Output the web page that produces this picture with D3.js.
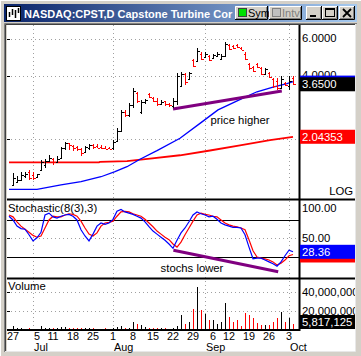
<!DOCTYPE html>
<html><head><meta charset="utf-8">
<script src="https://cdn.jsdelivr.net/npm/d3@7"></script>
<style>
body{margin:0;background:#d4d0c8;overflow:hidden}
svg{display:block;font-family:"Liberation Sans",Arial,sans-serif}
</style></head>
<body><svg id="c" width="361" height="356"></svg>
<script>
// ---------- DATA ----------
const titleText = "NASDAQ:CPST,D Capstone Turbine Cor";
const dayLabels = ["27","5","11","18","25","1","8","15","22","29","6","12","19","26","3"];
const dayIdx    = [0,6,10,15,20,25,30,35,40,45,50,54,59,64,69];
const monthLabels = ["Jul","Aug","Sep","Oct"];
const monthIdx    = [5,25,48,69];

const opens  = [1.20,1.24,1.27,1.32,1.38,1.34,1.31,1.42,1.50,1.57,1.60,1.55,1.62,1.80,1.90,1.85,1.82,1.78,1.72,1.80,1.86,1.84,1.83,1.81,1.81,1.80,1.95,2.18,2.70,2.60,2.90,3.30,2.70,3.00,3.28,3.15,3.05,2.95,3.02,2.95,2.88,3.05,3.60,4.10,3.85,4.75,4.70,5.10,4.95,5.00,4.90,5.00,4.85,5.00,5.65,5.60,5.65,5.45,5.10,4.55,4.40,4.55,4.35,4.10,4.15,3.85,3.80,3.50,3.70,3.60,3.90];
const highs  = [1.37,1.33,1.38,1.38,1.42,1.38,1.36,1.58,1.60,1.67,1.62,1.65,1.83,1.93,1.91,1.87,1.85,1.81,1.85,1.89,1.89,1.88,1.86,1.84,1.83,1.97,2.24,2.75,2.75,2.96,3.49,3.35,3.07,3.10,3.32,3.16,3.12,3.07,3.05,2.98,3.12,4.13,4.20,4.15,4.20,4.80,5.45,5.20,5.20,5.05,5.10,5.20,5.10,5.80,5.70,5.63,5.70,5.50,5.20,4.60,4.45,4.60,4.42,4.38,4.20,3.91,3.91,4.00,3.75,4.00,4.00];
const lows   = [1.18,1.22,1.25,1.30,1.27,1.27,1.31,1.42,1.45,1.55,1.50,1.53,1.61,1.77,1.77,1.75,1.74,1.66,1.70,1.77,1.79,1.80,1.79,1.78,1.78,1.77,1.93,2.16,2.55,2.55,2.82,2.97,2.64,2.95,3.14,3.00,2.87,2.90,2.88,2.85,2.80,2.90,3.55,3.62,3.83,4.40,4.65,4.77,4.95,4.70,4.90,4.95,4.80,4.95,5.33,5.40,5.45,5.33,4.77,4.27,4.20,4.35,4.05,4.05,3.90,3.52,3.43,3.47,3.58,3.43,3.62];
const closes = [1.30,1.27,1.34,1.36,1.30,1.29,1.35,1.55,1.57,1.62,1.55,1.60,1.80,1.90,1.87,1.80,1.78,1.70,1.83,1.86,1.82,1.81,1.80,1.79,1.79,1.93,2.18,2.70,2.60,2.90,3.40,3.05,3.00,3.08,3.18,3.02,2.95,3.00,2.93,2.90,3.05,4.00,4.10,3.75,4.15,4.45,5.30,4.85,5.10,4.75,5.05,5.10,5.00,5.70,5.40,5.45,5.50,5.35,4.85,4.35,4.25,4.40,4.10,4.30,3.95,3.60,3.50,3.85,3.62,3.80,3.65];
const volumes = [4.2,1.4,1.4,0.8,1.4,0.6,0.6,3.2,1.4,1.4,1.4,1.4,2.5,2.5,1.2,1.2,1.2,1.2,1.2,1.2,1.2,0.8,0.6,1.2,0.6,1.4,2.5,4.2,1.8,1.8,8.4,5.6,4.6,2.5,2.0,2.0,1.8,1.4,1.4,1.0,1.4,3.5,15.4,5.6,8.0,22,44.5,21,15.8,10.5,10.5,5.6,7.7,27.7,13,8.4,9.5,4.2,17.2,15,11.6,6.7,4.6,4.6,4.6,8.4,12,18.2,7.7,12,5.817125];

// stochastic, first value is index -1
const stochK = [86,80,70,66,65,56,46,51,60,88,91,85,83,86,88,89,86,80,64,54,46,57,70,75,73,75,81,94,97,93,91,89,86,83,77,69,62,57,52,47,41,34,47,59,67,77,88,93,90,88,85,86,81,75,72,70,68,68,67,56,36,17,18,18,15,12,9,5,12,22,31,28.36];
const stochD = [88,85,77,70,65,60,55,52,54,67,80,86,85,85,88,90,89,86,78,67,57,54,59,70,75,76,78,86,93,94,93,90,88,86,81,75,69,62,57,52,48,41,36,44,56,67,78,88,91,89,88,86,85,80,75,72,70,69,67,64,48,30,20,18,17,15,12,7,10,15,22,24];

const maBlueIdx = [-1,6,12,17,22,25.5,28.5,31.75,36,41.75,46.75,51.25,57.5,61,65,68.5,70];
const maBlueVal = [1.144,1.144,1.20,1.245,1.314,1.389,1.468,1.594,1.753,2.01,2.37,2.75,3.13,3.36,3.54,3.68,3.76];
const maRedIdx = [-1,21.5,21.75,28.5,34.25,41.75,49.25,56.75,64.25,70];
const maRedVal = [1.54,1.54,1.55,1.562,1.607,1.666,1.756,1.86,1.97,2.04353];

const trendPriceIdx = [40,67.2], trendPriceVal = [2.78,3.39];
const trendStochIdx = [40.1,66.3], trendStochVal = [31,-4];

const priceGrid = [2,4,6];
const priceTicks = [4,6], priceTickLabels = ["4.0000","6.0000"];
const stochTicks = [50,100], stochTickLabels = ["50.00","100.00"];
const volTicks = [20e6,40e6], volTickLabels = ["20,000,000","40,000,000"];
const lastPrice = 3.65, lastPriceLabel = "3.6500";
const lastMaBlue = 3.76;
const lastMaRed = 2.04353, lastMaRedLabel = "2.04353";
const lastK = 28.36, lastKLabel = "28.36", lastD = 24;
const lastVol = 5817125, lastVolLabel = "5,817,125";

// ---------- LAYOUT ----------
const L = 7, R = 300, AX = 355;
const P = {top:25, bot:199}, S = {top:199, bot:278}, V = {top:278, bot:330};
const X  = d3.scaleLinear().domain([0,70]).range([13,293]);
const yP = d3.scaleLog().domain([1,6]).range([201.46,39.3]);
const yS = d3.scaleLinear().domain([0,100]).range([269.3,207.6]);
const yV = d3.scaleLinear().domain([0,40e6]).range([329.5,291.5]);
const FS = 11.3;

const svg = d3.select("#c");
const defs = svg.append("defs");
const grad = defs.append("linearGradient").attr("id","tg");
grad.append("stop").attr("offset","0").attr("stop-color","#0a246a");
grad.append("stop").attr("offset","1").attr("stop-color","#a6caf0");
defs.append("clipPath").attr("id","clipTitle").append("rect").attr("x",4).attr("y",4).attr("width",230).attr("height",18);
defs.append("clipPath").attr("id","clipP").append("rect").attr("x",L).attr("y",P.top).attr("width",R-L).attr("height",P.bot-P.top);
defs.append("clipPath").attr("id","clipS").append("rect").attr("x",L).attr("y",S.top).attr("width",R-L).attr("height",S.bot-S.top);
defs.append("clipPath").attr("id","clipV").append("rect").attr("x",L).attr("y",V.top).attr("width",R-L).attr("height",V.bot-V.top);
defs.append("clipPath").attr("id","clipAx").append("rect").attr("x",R).attr("y",P.top).attr("width",AX-R).attr("height",V.bot-P.top);

// window background
svg.append("rect").attr("width",361).attr("height",356).attr("fill","#d4d0c8");
svg.append("line").attr("x1",0).attr("y1",0.5).attr("x2",361).attr("y2",0.5).attr("stroke","#ffffff");
svg.append("line").attr("x1",0.5).attr("y1",0).attr("x2",0.5).attr("y2",356).attr("stroke","#ffffff");

// title bar
svg.append("rect").attr("x",4).attr("y",4).attr("width",353).attr("height",18).attr("fill","url(#tg)");
const ic = svg.append("g");
ic.append("rect").attr("x",6.5).attr("y",6.5).attr("width",14).attr("height",14).attr("fill","#fff").attr("stroke","#000");
[[9,12,17],[12,9,15],[15,10,18],[18,8,13]].forEach(d=>{
  ic.append("line").attr("x1",d[0]+0.5).attr("x2",d[0]+0.5).attr("y1",d[1]).attr("y2",d[2]).attr("stroke","#000").attr("stroke-width",1.5);
});
svg.append("text").attr("clip-path","url(#clipTitle)").attr("x",24).attr("y",17.5)
  .attr("fill","#fff").attr("font-weight","bold").attr("font-size",11).text(titleText);

function button(x,y,w,h){
  const g = svg.append("g");
  g.append("rect").attr("x",x).attr("y",y).attr("width",w).attr("height",h).attr("fill","#d4d0c8");
  g.append("path").attr("d",`M${x+0.5},${y+h}V${y+0.5}H${x+w}`).attr("stroke","#fff").attr("fill","none");
  g.append("path").attr("d",`M${x},${y+h-0.5}H${x+w-0.5}V${y}`).attr("stroke","#000").attr("fill","none");
  g.append("path").attr("d",`M${x+1},${y+h-1.5}H${x+w-1.5}V${y+1}`).attr("stroke","#808080").attr("fill","none");
  return g;
}
const bs = button(235,6,33,14);
bs.append("rect").attr("x",238.5).attr("y",8.5).attr("width",8).attr("height",8).attr("fill","#00e000").attr("stroke","#404040");
bs.append("text").attr("x",248).attr("y",17).attr("font-size",11).attr("fill","#000").text("Sym");
const bi = button(269,6,33,14);
bi.append("rect").attr("x",272.5).attr("y",8.5).attr("width",8).attr("height",8).attr("fill","#c0c0c0").attr("stroke","#808080");
bi.append("text").attr("x",282).attr("y",17).attr("font-size",11).attr("fill","#808080").text("Intv");
const bmin = button(306,6,16,14);
bmin.append("rect").attr("x",310).attr("y",15).attr("width",6).attr("height",2).attr("fill","#000");
const bmax = button(322,6,16,14);
bmax.append("rect").attr("x",325.5).attr("y",8.5).attr("width",9).attr("height",8).attr("fill","none").attr("stroke","#000");
bmax.append("line").attr("x1",325).attr("x2",335).attr("y1",9.5).attr("y2",9.5).attr("stroke","#000");
const bx = button(339,6,16,14);
bx.append("path").attr("d","M343,9L351,17M351,9L343,17").attr("stroke","#000").attr("stroke-width",1.8);

// chart white area with sunken border
svg.append("rect").attr("x",L).attr("y",P.top).attr("width",AX-L).attr("height",351-P.top).attr("fill","#fff");
svg.append("path").attr("d",`M4.5,352V23.5H357`).attr("stroke","#808080").attr("fill","none");
svg.append("path").attr("d",`M5.5,352V24.5H356`).attr("stroke","#404040").attr("fill","none");
svg.append("path").attr("d",`M5,351.5H355.5V24`).attr("stroke","#e8e8e8").attr("fill","none");

// gridlines
const grid = svg.append("g").attr("stroke","#a0a0a0").attr("stroke-dasharray","1,3").attr("stroke-width",1);
monthIdx.forEach(i=>{
  const x = Math.round(X(i))+0.5;
  grid.append("line").attr("x1",x).attr("x2",x).attr("y1",P.top).attr("y2",V.bot);
});
priceGrid.forEach(v=>{const y=Math.round(yP(v))+0.5;grid.append("line").attr("x1",L).attr("x2",R).attr("y1",y).attr("y2",y);});
[50].forEach(v=>{const y=Math.round(yS(v))+0.5;grid.append("line").attr("x1",L).attr("x2",R).attr("y1",y).attr("y2",y);});
volTicks.forEach(v=>{const y=Math.round(yV(v))+0.5;grid.append("line").attr("x1",L).attr("x2",R).attr("y1",y).attr("y2",y);});
// left tiny ticks
const lt = svg.append("g").attr("stroke","#000");
priceGrid.map(yP).concat([yS(50)],volTicks.map(yV)).forEach(y=>{
  const yy=Math.round(y)+0.5; lt.append("line").attr("x1",L).attr("x2",L+3).attr("y1",yy).attr("y2",yy);
});

// stoch 80 / 20 lines
[80,20].forEach(v=>{const y=Math.round(yS(v))+0.5;
  svg.append("line").attr("x1",L).attr("x2",R).attr("y1",y).attr("y2",y).attr("stroke","#000");});

// ---------- PRICE PANEL ----------
const gp = svg.append("g").attr("clip-path","url(#clipP)");
const lineP = d3.line().x(d=>X(d[0])).y(d=>yP(d[1]));
gp.append("path").datum(maRedIdx.map((d,i)=>[d,maRedVal[i]])).attr("d",lineP).attr("fill","none").attr("stroke","#ff0000").attr("stroke-width",1.8);
gp.append("path").datum(maBlueIdx.map((d,i)=>[d,maBlueVal[i]])).attr("d",lineP).attr("fill","none").attr("stroke","#0000ff").attr("stroke-width",1.3);
gp.append("path").datum(trendPriceIdx.map((d,i)=>[d,trendPriceVal[i]])).attr("d",lineP).attr("fill","none").attr("stroke","#800080").attr("stroke-width",3);
const bars = gp.append("g").attr("shape-rendering","crispEdges");
opens.forEach((o,i)=>{
  const col = closes[i] >= o ? "#000000" : "#ff0000";
  const x = Math.round(X(i))+0.5;
  bars.append("line").attr("x1",x).attr("x2",x).attr("y1",yP(highs[i])).attr("y2",yP(lows[i])).attr("stroke",col);
  const yo = Math.round(yP(o))+0.5, yc = Math.round(yP(closes[i]))+0.5;
  bars.append("line").attr("x1",x-2).attr("x2",x).attr("y1",yo).attr("y2",yo).attr("stroke",col);
  bars.append("line").attr("x1",x).attr("x2",x+2).attr("y1",yc).attr("y2",yc).attr("stroke",col);
});
svg.append("text").attr("x",240).attr("y",120).attr("dominant-baseline","central").attr("font-size",FS).attr("text-anchor","middle").text("price higher");

// ---------- STOCH PANEL ----------
const gs = svg.append("g").attr("clip-path","url(#clipS)");
const lineS = d3.line().x(d=>X(d[0])).y(d=>yS(d[1]));
gs.append("path").datum(stochD.map((v,i)=>[i-1,v])).attr("d",lineS).attr("fill","none").attr("stroke","#ff0000").attr("stroke-width",1.2);
gs.append("path").datum(stochK.map((v,i)=>[i-1,v])).attr("d",lineS).attr("fill","none").attr("stroke","#0000ff").attr("stroke-width",1.2);
gs.append("path").datum(trendStochIdx.map((d,i)=>[d,trendStochVal[i]])).attr("d",lineS).attr("fill","none").attr("stroke","#800080").attr("stroke-width",3);
svg.append("text").attr("x",8).attr("y",208).attr("dominant-baseline","central").attr("font-size",FS).text("Stochastic(8(3),3)");
svg.append("text").attr("x",192).attr("y",268).attr("dominant-baseline","central").attr("font-size",FS).attr("text-anchor","middle").text("stochs lower");

// ---------- VOLUME PANEL ----------
const gv = svg.append("g").attr("clip-path","url(#clipV)").attr("shape-rendering","crispEdges");
volumes.forEach((v,i)=>{
  const col = closes[i] >= opens[i] ? "#000000" : "#ff0000";
  const x = Math.round(X(i))+0.5;
  gv.append("line").attr("x1",x).attr("x2",x).attr("y1",yV(0)).attr("y2",yV(v*1e6)).attr("stroke",col);
});
svg.append("text").attr("x",8).attr("y",286).attr("dominant-baseline","central").attr("font-size",FS).text("Volume");

// ---------- FRAME LINES ----------
const fr = svg.append("g").attr("stroke","#000").attr("stroke-width",2);
fr.append("line").attr("x1",L).attr("x2",AX).attr("y1",S.top+0.5).attr("y2",S.top+0.5);
fr.append("line").attr("x1",L).attr("x2",AX).attr("y1",V.top+0.5).attr("y2",V.top+0.5);
fr.append("line").attr("x1",L).attr("x2",R).attr("y1",V.bot).attr("y2",V.bot);
fr.append("line").attr("x1",R-0.5).attr("x2",R-0.5).attr("y1",P.top).attr("y2",V.bot+1);

// ---------- RIGHT AXIS ----------
const ax = svg.append("g").attr("font-size",FS).attr("dominant-baseline","central").attr("clip-path","url(#clipAx)");
priceTicks.forEach((v,i)=>ax.append("text").attr("x",302).attr("y",yP(v)-1).text(priceTickLabels[i]));
stochTicks.forEach((v,i)=>ax.append("text").attr("x",302).attr("y",yS(v)).text(stochTickLabels[i]));
volTicks.forEach((v,i)=>ax.append("text").attr("x",302).attr("y",yV(v)).text(volTickLabels[i]));
ax.append("text").attr("x",353).attr("y",191).attr("text-anchor","end").text("LOG");
function box(yc,fill,label){
  svg.append("rect").attr("x",300).attr("y",yc-7).attr("width",55).attr("height",14).attr("fill",fill);
  if(label) svg.append("text").attr("x",302).attr("y",yc).attr("dominant-baseline","central").attr("font-size",FS).attr("fill","#fff").text(label);
}
box(yP(lastMaBlue)+1,"#0000ff",null);
box(yP(lastPrice),"#000000",lastPriceLabel);
box(yP(lastMaRed),"#ff0000",lastMaRedLabel);
box(yS(lastD)+1,"#ff0000",null);
box(yS(lastK),"#0000ff",lastKLabel);
box(Math.min(yV(lastVol),322),"#000000",lastVolLabel);

// ---------- DATE AXIS ----------
const da = svg.append("g").attr("font-size",10.8);
dayIdx.forEach((i,k)=>da.append("text").attr("x",X(i)).attr("y",340).attr("text-anchor","middle").text(dayLabels[k]));
monthIdx.forEach((i,k)=>da.append("text").attr("x",X(i)+1).attr("y",350.5).text(monthLabels[k]));
</script></body></html>
